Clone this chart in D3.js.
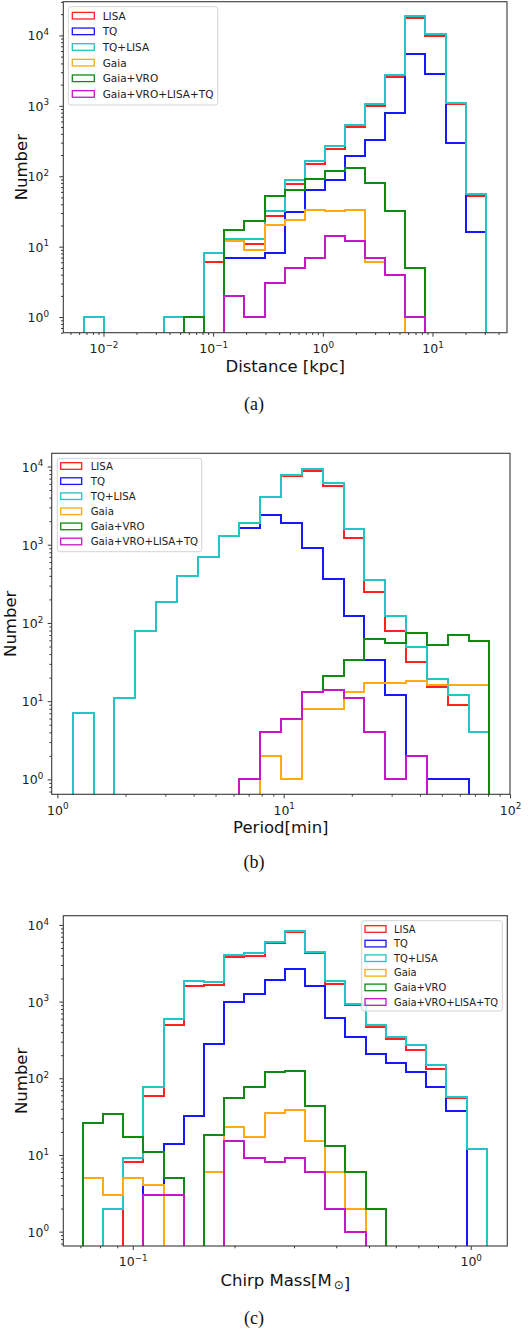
<!DOCTYPE html>
<html>
<head>
<meta charset="utf-8">
<script src="https://cdn.jsdelivr.net/npm/d3@7"></script>
<style>
  body { margin: 0; background: #fff; }
  svg { display: block; }
</style>
</head>
<body>
<svg id="chart"></svg>
<script>
const width = 532;
const height = 1334;

const seriesNames = ["LISA", "TQ", "TQ+LISA", "Gaia", "Gaia+VRO", "Gaia+VRO+LISA+TQ"];

// (a) distance histogram, bin edges in kpc
const distEdges = [0.00658, 0.01003, 0.0153, 0.02334, 0.0356, 0.05433, 0.08289, 0.1264, 0.1929, 0.2942,
                   0.4487, 0.6845, 1.044, 1.593, 2.43, 3.707, 5.655, 8.627, 13.16, 20.07, 30.62];
const distLISA  = [1, 0, 0, 0, 1, 0, 6, 12, 11, 27, 78, 150, 240, 505, 1010, 2590, 17400, 9680, 1050, 52];
const distTQ    = [0, 0, 0, 0, 0, 0, 0, 7, 7, 8, 31, 63, 89, 192, 322, 790, 5500, 2860, 296, 16];
const distTQL   = [1, 0, 0, 0, 1, 0, 8, 13, 13, 32, 89, 166, 271, 534, 1070, 2740, 18600, 10300, 1100, 56];
const distGaia  = [0, 0, 0, 0, 0, 0, 0, 12, 9, 20, 24, 33, 32, 33, 6, 4, 0, 0, 0, 0];
const distGV    = [0, 0, 0, 0, 0, 1, 0, 17, 23, 52, 63, 91, 118, 129, 80, 32, 5, 0, 0, 0];
const distAll   = [0, 0, 0, 0, 0, 0, 0, 2, 1, 3, 5, 7, 14, 12, 7, 4, 1, 0, 0, 0];

// (b) period histogram, bin edges in minutes
const perEdges = [1.169, 1.446, 1.787, 2.21, 2.731, 3.376, 4.172, 5.157, 6.374, 7.878,
                  9.739, 12.04, 14.88, 18.4, 22.74, 28.11, 34.74, 42.95, 53.08, 65.62, 81.1];
const perLISA  = [7, 0, 11, 79, 187, 398, 703, 1300, 1870, 4030, 7620, 8830, 5570, 1230, 251, 79, 32, 15, 9, 4];
const perTQ    = [7, 0, 11, 79, 187, 398, 703, 1280, 1650, 2400, 1880, 900, 364, 124, 34, 12, 2, 1, 1, 0];
const perTQL   = [7, 0, 11, 79, 187, 398, 703, 1300, 1870, 4030, 7850, 9290, 6210, 1600, 351, 122, 50, 19, 12, 4];
const perGaia  = [0, 0, 0, 0, 0, 0, 0, 0, 0, 2, 1, 8, 8, 13, 17, 17, 18, 16, 16, 16];
const perGV    = [0, 0, 0, 0, 0, 0, 0, 0, 1, 4, 6, 13, 21, 34, 62, 56, 74, 53, 71, 59];
const perAll   = [0, 0, 0, 0, 0, 0, 0, 0, 1, 4, 6, 13, 14, 11, 4, 1, 2, 0, 0, 0];

// (c) chirp mass histogram, bin edges in solar masses
const chirpEdges = [0.07114, 0.08162, 0.09367, 0.1075, 0.1234, 0.1415, 0.1624, 0.1864, 0.2139, 0.2454,
                    0.2816, 0.3232, 0.3709, 0.4256, 0.4884, 0.5605, 0.6432, 0.738, 0.8469, 0.9719, 1.115];
const chirpLISA  = [0, 0, 8, 59, 495, 1600, 1630, 3810, 3890, 5760, 8000, 4270, 1700, 895, 471, 329, 234, 131, 56, 12];
const chirpTQ    = [0, 0, 0, 4, 14, 32, 277, 1000, 1245, 1915, 2660, 1610, 617, 349, 205, 157, 122, 76, 37, 0];
const chirpTQL   = [0, 2, 9, 78, 593, 1860, 1790, 4020, 4240, 5930, 8320, 4400, 1860, 931, 495, 349, 272, 150, 57, 12];
const chirpGaia  = [5, 3, 5, 4, 0, 0, 6, 23, 17, 35, 39, 15, 6, 2, 0, 0, 0, 0, 0, 0];
const chirpGV    = [26, 34, 17, 11, 5, 0, 18, 56, 78, 122, 123, 43, 13, 6, 2, 0, 0, 0, 0, 0];
const chirpAll   = [0, 0, 0, 3, 3, 0, 0, 15, 9, 8, 9, 6, 2, 1, 0, 0, 0, 0, 0, 0];

const colors = ["#ff2020", "#1818ff", "#22c4c4", "#ffaa10", "#108a10", "#c418c4"];
const axisColor = "#3a3a3a";
const sansFont = "DejaVu Sans, sans-serif";

const panels = [
  {
    edges: distEdges, series: [distLISA, distTQ, distTQL, distGaia, distGV, distAll],
    xDomain: [0.0043, 47.8], yDomain: [0.60, 30100],
    box: {left: 63.3, right: 507, top: 1.7, bottom: 332.7},
    yTickEnd: 49, yLabelX: 26.5,
    xLabel: [{t: "Distance [kpc]"}], xLabelY: 372,
    caption: "(a)", captionY: 410,
    legend: {x: 68.3, y: 6.7, w: 149.4, h: 98.3, first: 15.7, row: 15.65, px: 72.3, pw: 22, tx: 102.7, font: 10.5}
  },
  {
    edges: perEdges, series: [perLISA, perTQ, perTQL, perGaia, perGV, perAll],
    xDomain: [0.944, 100], yDomain: [0.645, 14750],
    box: {left: 51.7, right: 510, top: 453.3, bottom: 794.3},
    yTickEnd: 43.3, yLabelX: 15.5,
    xLabel: [{t: "Period[min]"}], xLabelY: 833,
    caption: "(b)", captionY: 868,
    legend: {x: 57.3, y: 458.3, w: 144.4, h: 93.4, first: 466, row: 15.1, px: 60.7, pw: 21, tx: 90.7, font: 10.2}
  },
  {
    edges: chirpEdges, series: [chirpLISA, chirpTQ, chirpTQL, chirpGaia, chirpGV, chirpAll],
    xDomain: [0.0623, 1.283], yDomain: [0.65, 13180],
    box: {left: 63.3, right: 507.3, top: 915.7, bottom: 1246},
    yTickEnd: 49, yLabelX: 26.5,
    xLabel: [{t: "Chirp Mass[M"}, {t: "\u2299", sub: true}, {t: "]"}], xLabelY: 1286,
    caption: "(c)", captionY: 1324,
    legend: {x: 361.7, y: 920.7, w: 140.6, h: 90.3, first: 929, row: 14.6, px: 365, pw: 21, tx: 394, font: 9.9}
  }
];

const svg = d3.select("#chart")
  .attr("width", width)
  .attr("height", height)
  .attr("viewBox", `0 0 ${width} ${height}`);

function decadeTicks(domain) {
  const major = [], minor = [];
  const lo = Math.floor(Math.log10(domain[0]));
  const hi = Math.ceil(Math.log10(domain[1]));
  for (let k = lo; k <= hi; k++) {
    for (let m = 1; m <= 9; m++) {
      const v = m * Math.pow(10, k);
      if (v < domain[0] * 0.9999 || v > domain[1] * 1.0001) continue;
      (m === 1 ? major : minor).push(v);
    }
  }
  return {major, minor};
}

function powerLabel(sel) {
  sel.each(function(d) {
    const e = Math.round(Math.log10(d));
    const t = d3.select(this).text(null);
    t.append("tspan").text("10");
    t.append("tspan").attr("dy", -5.4).attr("font-size", 8.8)
      .text(e < 0 ? "\u2212" + (-e) : String(e));
  });
}

panels.forEach((p, pi) => {
  const b = p.box;
  const x = d3.scaleLog().domain(p.xDomain).range([b.left, b.right]);
  const y = d3.scaleLog().domain(p.yDomain).range([b.bottom, b.top]);
  // pixel-snapped copies for the outlines, so coincident steps overlap exactly
  const xs = x.copy().interpolate(d3.interpolateRound);
  const ys = y.copy().interpolate(d3.interpolateRound);
  const g = svg.append("g");

  const clipId = "clip" + pi;
  svg.append("clipPath").attr("id", clipId)
    .append("rect")
    .attr("x", b.left).attr("y", b.top)
    .attr("width", b.right - b.left).attr("height", b.bottom - b.top);

  // histogram outlines, drawn in legend order so later ones sit on top
  const floorY = b.bottom + 20;
  const line = d3.line();
  const plot = g.append("g").attr("clip-path", `url(#${clipId})`);
  p.series.forEach((counts, si) => {
    const pts = [[xs(p.edges[0]), floorY]];
    counts.forEach((c, i) => {
      const yy = c > 0 ? ys(c) : floorY;
      pts.push([xs(p.edges[i]), yy], [xs(p.edges[i + 1]), yy]);
    });
    pts.push([xs(p.edges[p.edges.length - 1]), floorY]);
    plot.append("path")
      .attr("d", line(pts))
      .attr("fill", "none")
      .attr("stroke", colors[si])
      .attr("stroke-width", 2)
      .attr("stroke-linejoin", "miter");
  });

  // axes
  const xt = decadeTicks(p.xDomain);
  const yt = decadeTicks(p.yDomain);

  const xMinor = g.append("g").attr("transform", `translate(0,${b.bottom})`)
    .call(d3.axisBottom(x).tickValues(xt.minor).tickSize(2.3).tickFormat(""));
  const xMajor = g.append("g").attr("transform", `translate(0,${b.bottom})`)
    .call(d3.axisBottom(x).tickValues(xt.major).tickSize(4).tickFormat(d => d));
  const yMinor = g.append("g").attr("transform", `translate(${b.left},0)`)
    .call(d3.axisLeft(y).tickValues(yt.minor).tickSize(2.3).tickFormat(""));
  const yMajor = g.append("g").attr("transform", `translate(${b.left},0)`)
    .call(d3.axisLeft(y).tickValues(yt.major).tickSize(4).tickFormat(d => d));

  [xMinor, xMajor, yMinor, yMajor].forEach(a => {
    a.select(".domain").remove();
    a.selectAll(".tick line").attr("stroke", axisColor).attr("stroke-width", 1);
  });

  xMajor.selectAll(".tick text")
    .attr("y", 20.3).attr("dy", null)
    .attr("fill", "#222").attr("font-family", sansFont).attr("font-size", 12.5)
    .call(powerLabel);
  yMajor.selectAll(".tick text")
    .attr("x", p.yTickEnd - b.left).attr("dy", "0.36em")
    .attr("fill", "#222").attr("font-family", sansFont).attr("font-size", 12.5)
    .call(powerLabel);

  // frame
  g.append("rect")
    .attr("x", b.left).attr("y", b.top)
    .attr("width", b.right - b.left).attr("height", b.bottom - b.top)
    .attr("fill", "none").attr("stroke", axisColor).attr("stroke-width", 1.1);

  // axis titles
  const xl = g.append("text")
    .attr("x", (b.left + b.right) / 2).attr("y", p.xLabelY)
    .attr("text-anchor", "middle")
    .attr("font-family", sansFont).attr("font-size", 16.5).attr("fill", "#111");
  p.xLabel.forEach(part => {
    if (part.sub) {
      xl.append("tspan").attr("dx", 2).attr("dy", 3).attr("font-size", 12).text(part.t);
      xl.append("tspan").attr("dx", 2).attr("dy", -3).text("");
    } else {
      xl.append("tspan").text(part.t);
    }
  });

  g.append("text")
    .attr("transform", `translate(${p.yLabelX},${(b.top + b.bottom) / 2}) rotate(-90)`)
    .attr("text-anchor", "middle")
    .attr("font-family", sansFont).attr("font-size", 16.5).attr("fill", "#111")
    .text("Number");

  // legend
  const L = p.legend;
  const lg = g.append("g");
  lg.append("rect")
    .attr("x", L.x).attr("y", L.y).attr("width", L.w).attr("height", L.h)
    .attr("rx", 2.5)
    .attr("fill", "#fff").attr("fill-opacity", 0.8)
    .attr("stroke", "#d4d4d4").attr("stroke-width", 1);
  seriesNames.forEach((name, i) => {
    const cy = L.first + i * L.row;
    lg.append("rect")
      .attr("x", L.px).attr("y", cy - 3.3)
      .attr("width", L.pw).attr("height", 6.6)
      .attr("fill", "none")
      .attr("stroke", colors[i]).attr("stroke-width", 1.3);
    lg.append("text")
      .attr("x", L.tx).attr("y", cy + L.font * 0.37)
      .attr("font-family", sansFont).attr("font-size", L.font).attr("fill", "#222")
      .text(name);
  });

  // caption
  g.append("text")
    .attr("x", 254).attr("y", p.captionY)
    .attr("text-anchor", "middle")
    .attr("font-family", "Liberation Serif, Times New Roman, serif")
    .attr("font-size", 18).attr("fill", "#111")
    .text(p.caption);
});
</script>
</body>
</html>
